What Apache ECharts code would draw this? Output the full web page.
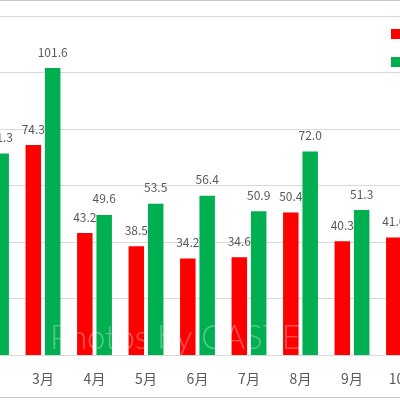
<!DOCTYPE html>
<html>
<head>
<meta charset="utf-8">
<script src="https://cdn.jsdelivr.net/npm/echarts@6/dist/echarts.min.js"></script>
<style>
html,body{margin:0;padding:0;background:#fff;}
#c{width:400px;height:400px;}
</style>
</head>
<body>
<div id="c"></div>
<script>
var categories = ['2月','3月','4月','5月','6月','7月','8月','9月','10月'];
var seriesNames = ['系列1','系列2'];
var redValues = [null, 74.3, 43.2, 38.5, 34.2, 34.6, 50.4, 40.3, 41.6];
var greenValues = [71.3, 101.6, 49.6, 53.5, 56.4, 50.9, 72.0, 51.3, null];
var yTicks = {min: 0, max: 120, interval: 20};

var chart = echarts.init(document.getElementById('c'));
var labelOpt = {
  show: true, position: 'top', distance: 10,
  color: '#595959', fontSize: 12, fontFamily: 'Noto Sans CJK JP',
  formatter: function (p) { return p.value == null ? '' : Number(p.value).toFixed(1); }
};
chart.setOption({
  animation: false,
  backgroundColor: '#fff',
  legend: {
    orient: 'vertical', left: 391, top: 28, padding: 0, itemWidth: 10, itemHeight: 10, itemGap: 16,
    icon: 'rect', textStyle: {color: '#595959', fontSize: 12},
    data: seriesNames
  },
  grid: {left: -34.25, right: -29.25, top: 16, bottom: 45, containLabel: false, outerBoundsMode: 'none'},
  xAxis: {
    type: 'category', data: categories,
    axisLine: {lineStyle: {color: '#d9d9d9'}},
    axisTick: {show: false},
    axisLabel: {
      margin: 17, fontSize: 14, fontFamily: 'Noto Sans CJK JP',
      color: function (v, i) { return i === 0 ? '#4472c4' : '#595959'; }
    }
  },
  yAxis: {
    type: 'value', min: yTicks.min, max: yTicks.max, interval: yTicks.interval,
    axisLabel: {show: false}, axisLine: {show: false}, axisTick: {show: false},
    splitLine: {lineStyle: {color: '#d9d9d9'}}
  },
  series: [
    {name: seriesNames[0], type: 'bar', data: redValues, barWidth: 15.5, barGap: '25%',
     itemStyle: {color: '#ff0000'}, label: labelOpt},
    {name: seriesNames[1], type: 'bar', data: greenValues, barWidth: 15.5,
     itemStyle: {color: '#00b050'}, label: labelOpt}
  ],
  graphic: [
    {type: 'line', shape: {x1: 0, y1: 0.5, x2: 400, y2: 0.5}, style: {stroke: '#c8c8c8', lineWidth: 1}, z: 100},
    {type: 'line', shape: {x1: 0, y1: 397.5, x2: 400, y2: 397.5}, style: {stroke: '#c8c8c8', lineWidth: 1}, z: 100},
    {type: 'text', left: 50, top: 322, z: 100, silent: true,
     style: {text: 'Photos by CASTE', fontSize: 33, fontFamily: 'Lato', fontWeight: 300,
             fill: 'rgba(242,242,242,0.35)'}}
  ]
});
</script>
</body>
</html>
